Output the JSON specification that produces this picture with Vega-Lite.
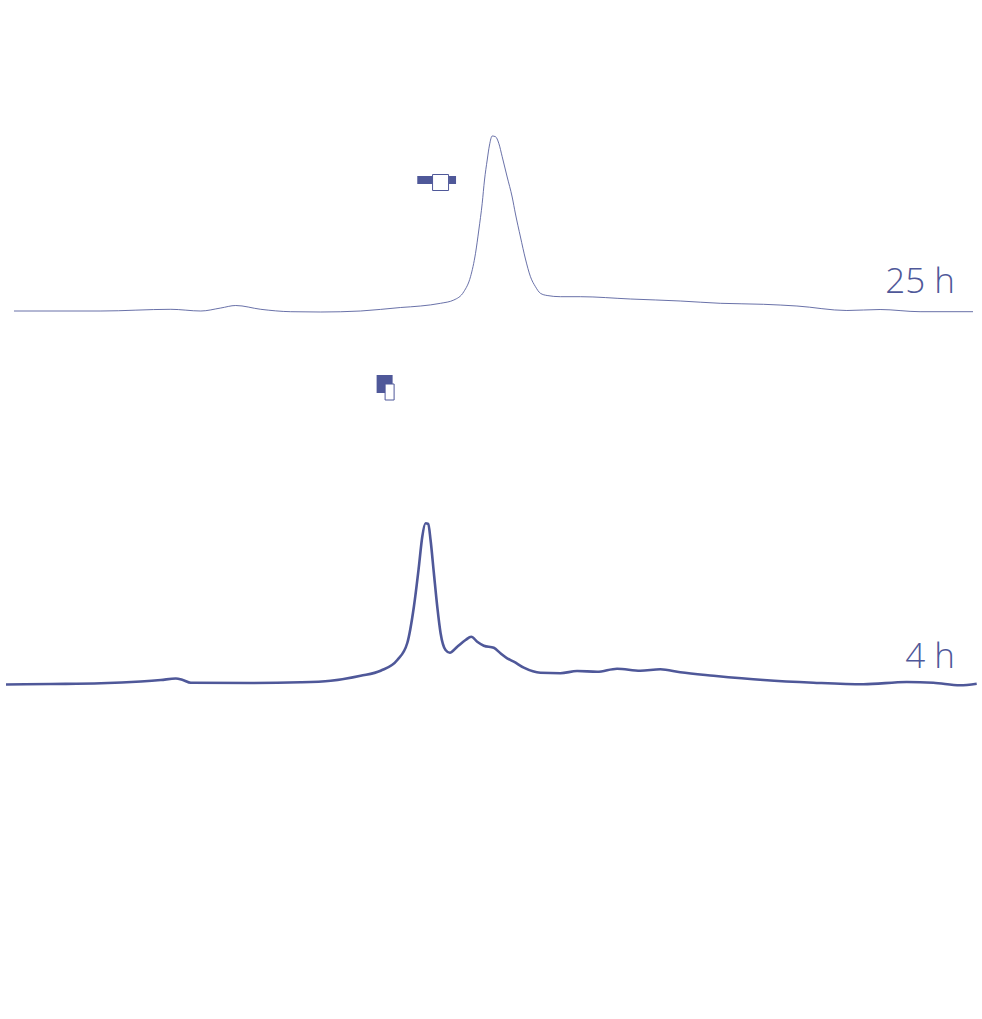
{
  "$schema": "https://vega.github.io/schema/vega-lite/v6.json",
  "width": 982,
  "height": 1019,
  "autosize": {"type": "fit", "contains": "padding"},
  "padding": 0,
  "background": "white",
  "config": {"view": {"stroke": null}},
  "datasets": {
    "h4": [
      {"x": 5, "y": 684.5}, {"x": 50, "y": 684}, {"x": 100, "y": 683.3}, {"x": 140, "y": 681.5}, {"x": 160, "y": 680}, {"x": 175, "y": 678.5},
      {"x": 182, "y": 680}, {"x": 190, "y": 682.7}, {"x": 250, "y": 683}, {"x": 300, "y": 682.3}, {"x": 330, "y": 680.7},
      {"x": 360, "y": 675.7}, {"x": 380, "y": 670.7}, {"x": 396.7, "y": 660}, {"x": 406.7, "y": 643}, {"x": 413.3, "y": 606.7},
      {"x": 418.3, "y": 566.7}, {"x": 421.7, "y": 536.7}, {"x": 425, "y": 523.3}, {"x": 427.7, "y": 524}, {"x": 430, "y": 540},
      {"x": 433.3, "y": 573}, {"x": 436.7, "y": 606.7}, {"x": 440, "y": 633}, {"x": 445, "y": 650}, {"x": 449.3, "y": 652.7},
      {"x": 456.7, "y": 646.7}, {"x": 465, "y": 640}, {"x": 470.7, "y": 636.7}, {"x": 476.7, "y": 641.7}, {"x": 483.3, "y": 645.7},
      {"x": 493.3, "y": 647.8}, {"x": 500, "y": 653.3}, {"x": 506.7, "y": 658.3}, {"x": 513.3, "y": 661.7}, {"x": 523.3, "y": 667.7},
      {"x": 540, "y": 672.8}, {"x": 560, "y": 673.2}, {"x": 576.7, "y": 671}, {"x": 596.7, "y": 671.8}, {"x": 616.7, "y": 668.7},
      {"x": 640, "y": 670.8}, {"x": 660, "y": 669.3}, {"x": 680, "y": 672.3}, {"x": 713.3, "y": 675.7}, {"x": 763.3, "y": 680},
      {"x": 813.3, "y": 682.7}, {"x": 863.3, "y": 684.3}, {"x": 906.7, "y": 682}, {"x": 933.3, "y": 682.7}, {"x": 960, "y": 685.3},
      {"x": 976.7, "y": 683.7}
    ],
    "h25": [
      {"x": 13, "y": 311}, {"x": 100, "y": 311}, {"x": 170, "y": 309.3}, {"x": 200, "y": 311}, {"x": 220, "y": 308}, {"x": 235, "y": 305.5},
      {"x": 260, "y": 309.3}, {"x": 290, "y": 311.7}, {"x": 320, "y": 312}, {"x": 360, "y": 311}, {"x": 400, "y": 307.5},
      {"x": 420, "y": 306}, {"x": 440, "y": 303.3}, {"x": 453.3, "y": 300}, {"x": 463.3, "y": 291.7}, {"x": 470, "y": 276.7},
      {"x": 475, "y": 253.3}, {"x": 478.3, "y": 230}, {"x": 481.7, "y": 203.3}, {"x": 484, "y": 180}, {"x": 486.7, "y": 160},
      {"x": 489, "y": 145}, {"x": 491.7, "y": 136}, {"x": 495, "y": 136.7}, {"x": 498.3, "y": 143.3}, {"x": 501.7, "y": 156.7},
      {"x": 506.7, "y": 177}, {"x": 511.7, "y": 197}, {"x": 515, "y": 214}, {"x": 520, "y": 237}, {"x": 525, "y": 259},
      {"x": 530, "y": 276.7}, {"x": 535, "y": 286.7}, {"x": 540, "y": 293.3}, {"x": 546.7, "y": 295.5}, {"x": 560, "y": 296.7},
      {"x": 580, "y": 296.7}, {"x": 630, "y": 299}, {"x": 680, "y": 301}, {"x": 720, "y": 303.3}, {"x": 763.3, "y": 304.3},
      {"x": 796.7, "y": 306}, {"x": 846.7, "y": 310.5}, {"x": 880, "y": 309.5}, {"x": 920, "y": 311.7}, {"x": 973, "y": 311.7}
    ],
    "labels": [
      {"label": "25 h", "x": 955, "y": 293},
      {"label": "4 h", "x": 955, "y": 668}
    ],
    "filled": [
      {"x": 424.7, "y": 180, "s": 256, "shape": "M-1,-0.5H1V0.5H-1Z"},
      {"x": 452, "y": 180, "s": 64, "shape": "M-0.875,-1H0.875V1H-0.875Z"},
      {"x": 384, "y": 384, "s": 324, "shape": "M-0.889,-1H0.889V1H-0.889Z"}
    ],
    "hollow": [
      {"x": 440, "y": 182.5, "s": 256, "shape": "square"},
      {"x": 389, "y": 392, "s": 256, "shape": "M-0.5625,-1H0.5625V1H-0.5625Z"}
    ]
  },
  "layer": [
    {
      "data": {"name": "h25"},
      "mark": {"type": "line", "color": "#4f5899", "strokeWidth": 1, "interpolate": "monotone", "opacity": 0.85},
      "encoding": {
        "x": {"field": "x", "type": "quantitative", "scale": {"domain": [0, 982]}, "axis": null},
        "y": {"field": "y", "type": "quantitative", "scale": {"domain": [0, 1019], "reverse": true}, "axis": null}
      }
    },
    {
      "data": {"name": "h4"},
      "mark": {"type": "line", "color": "#4f5899", "strokeWidth": 2.6, "interpolate": "monotone"},
      "encoding": {
        "x": {"field": "x", "type": "quantitative", "scale": {"domain": [0, 982]}, "axis": null},
        "y": {"field": "y", "type": "quantitative", "scale": {"domain": [0, 1019], "reverse": true}, "axis": null}
      }
    },
    {
      "data": {"name": "filled"},
      "mark": {"type": "point", "filled": true, "color": "#4f5899", "opacity": 1},
      "encoding": {
        "x": {"field": "x", "type": "quantitative", "scale": {"domain": [0, 982]}, "axis": null},
        "y": {"field": "y", "type": "quantitative", "scale": {"domain": [0, 1019], "reverse": true}, "axis": null},
        "size": {"field": "s", "type": "quantitative", "scale": null, "legend": null},
        "shape": {"field": "shape", "type": "nominal", "scale": null, "legend": null}
      }
    },
    {
      "data": {"name": "hollow"},
      "mark": {"type": "point", "filled": true, "fill": "white", "stroke": "#4f5899", "strokeWidth": 1, "opacity": 1},
      "encoding": {
        "x": {"field": "x", "type": "quantitative", "scale": {"domain": [0, 982]}, "axis": null},
        "y": {"field": "y", "type": "quantitative", "scale": {"domain": [0, 1019], "reverse": true}, "axis": null},
        "size": {"field": "s", "type": "quantitative", "scale": null, "legend": null},
        "shape": {"field": "shape", "type": "nominal", "scale": null, "legend": null}
      }
    },
    {
      "data": {"name": "labels"},
      "mark": {"type": "text", "align": "right", "baseline": "alphabetic", "font": "Open Sans", "fontWeight": 300, "fontSize": 35, "color": "#4f5899"},
      "encoding": {
        "x": {"field": "x", "type": "quantitative", "scale": {"domain": [0, 982]}, "axis": null},
        "y": {"field": "y", "type": "quantitative", "scale": {"domain": [0, 1019], "reverse": true}, "axis": null},
        "text": {"field": "label"}
      }
    }
  ]
}
